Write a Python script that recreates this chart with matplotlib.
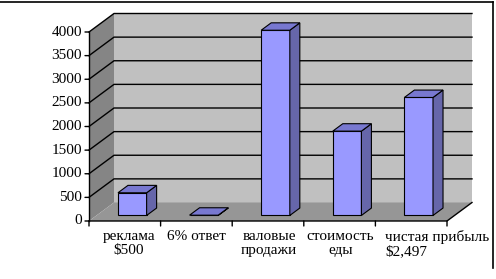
import matplotlib
matplotlib.use("Agg")
import matplotlib.pyplot as plt
from matplotlib.patches import Polygon
from matplotlib.lines import Line2D

# ---- data ----
categories = ["реклама\n$500", "6% ответ", "валовые\nпродажи", "стоимость\nеды", "чистая прибыль\n$2,497"]
values = [480, 6, 3920, 1785, 2497]
yticks = [0, 500, 1000, 1500, 2000, 2500, 3000, 3500, 4000]

# ---- style ----
W, H = 496, 279
FONT = "Liberation Serif"
FS = 11
front_c, side_c, top_c = "#9999FF", "#6666AA", "#7878D0"
wall_c, sidewall_c, floor_c = "#C0C0C0", "#858585", "#969696"

fig = plt.figure(figsize=(W / 100, H / 100), dpi=100)
fig.patch.set_facecolor("white")

# front plane in pixels
x0, x1 = 89, 447
yb, yt = 221, 32
ax = fig.add_axes([x0 / W, (H - yb) / H, (x1 - x0) / W, (yb - yt) / H])
ncat = len(categories)
ymax = yticks[-1]
ax.set_xlim(0, ncat)
ax.set_ylim(0, ymax)
ax.axis("off")

cw = (x1 - x0) / ncat
DX = 25 / cw                      # depth offset in category units
DY = 18.5 / (yb - yt) * ymax      # depth offset in value units


def P(x, v, d):
    return (x + d * DX, v + d * DY)


def poly(pts, fc, ec="none", lw=0.0, z=1):
    ax.add_patch(Polygon(pts, closed=True, facecolor=fc, edgecolor=ec,
                         linewidth=lw, zorder=z, clip_on=False))


# walls and floor
poly([P(0, 0, 1), P(ncat, 0, 1), P(ncat, ymax, 1), P(0, ymax, 1)], wall_c, z=1)
poly([P(0, 0, 0), P(0, ymax, 0), P(0, ymax, 1), P(0, 0, 1)], sidewall_c, z=1)
poly([P(0, 0, 0), P(ncat, 0, 0), P(ncat, 0, 1), P(0, 0, 1)], floor_c, z=1)

# gridlines
for v in yticks[1:]:
    pts = [P(0, v, 0), P(0, v, 1), P(ncat, v, 1)]
    ax.plot([p[0] for p in pts], [p[1] for p in pts], color="black", lw=1.0,
            zorder=2, clip_on=False)

# axis lines
ax.plot([0, 0], [0, ymax], color="black", lw=1.0, zorder=6, clip_on=False)
fl = [P(0, 0, 0), P(ncat, 0, 0), P(ncat, 0, 1)]
ax.plot([p[0] for p in fl], [p[1] for p in fl], color="black", lw=1.0,
        zorder=6, clip_on=False)

# y ticks + labels
tick_len = 4
for v in yticks:
    ax.annotate("", xy=(0, v), xytext=(-tick_len, 0), textcoords="offset pixels",
                arrowprops=dict(arrowstyle="-", lw=1.0, color="black",
                                shrinkA=0, shrinkB=0))
    ax.annotate(str(v), xy=(0, v), xytext=(-tick_len - 3, 0),
                textcoords="offset pixels", ha="right", va="center",
                fontsize=FS, family=FONT, color="black")

# x ticks
for i in range(ncat + 1):
    ax.annotate("", xy=(i, 0), xytext=(0, -5), textcoords="offset pixels",
                arrowprops=dict(arrowstyle="-", lw=1.0, color="black",
                                shrinkA=0, shrinkB=0))

# bars
bw0, bw1 = 0.3, 0.7
d0, d1 = 0.3, 0.7
for i, v in enumerate(values):
    xa, xb = i + bw0, i + bw1
    z = 10 + i
    poly([P(xa, 0, d0), P(xb, 0, d0), P(xb, v, d0), P(xa, v, d0)], front_c, "black", 0.8, z)
    poly([P(xb, 0, d0), P(xb, 0, d1), P(xb, v, d1), P(xb, v, d0)], side_c, "black", 0.8, z)
    poly([P(xa, v, d0), P(xb, v, d0), P(xb, v, d1), P(xa, v, d1)], top_c, "black", 0.8, z)

# category labels
label_dx = [4, 0, 1, 1, -26]
label_ha = ["center", "center", "center", "center", "left"]
label_ma = ["center", "center", "center", "center", "left"]
for i, lab in enumerate(categories):
    ax.annotate(lab, xy=(i + 0.5, 0), xytext=(label_dx[i], -9),
                textcoords="offset pixels", ha=label_ha[i], va="top",
                multialignment=label_ma[i], linespacing=1.12,
                fontsize=FS, family=FONT, color="black")

# outer frame (top and right edges visible)
fig.add_artist(Line2D([0, 493 / W], [1 - 1.5 / H, 1 - 1.5 / H], color="black", lw=1.2))
fig.add_artist(Line2D([493 / W, 493 / W], [1 - 1.5 / H, 1 - 268 / H], color="black", lw=1.2))

fig.savefig("out.png", dpi=100, facecolor="white")
